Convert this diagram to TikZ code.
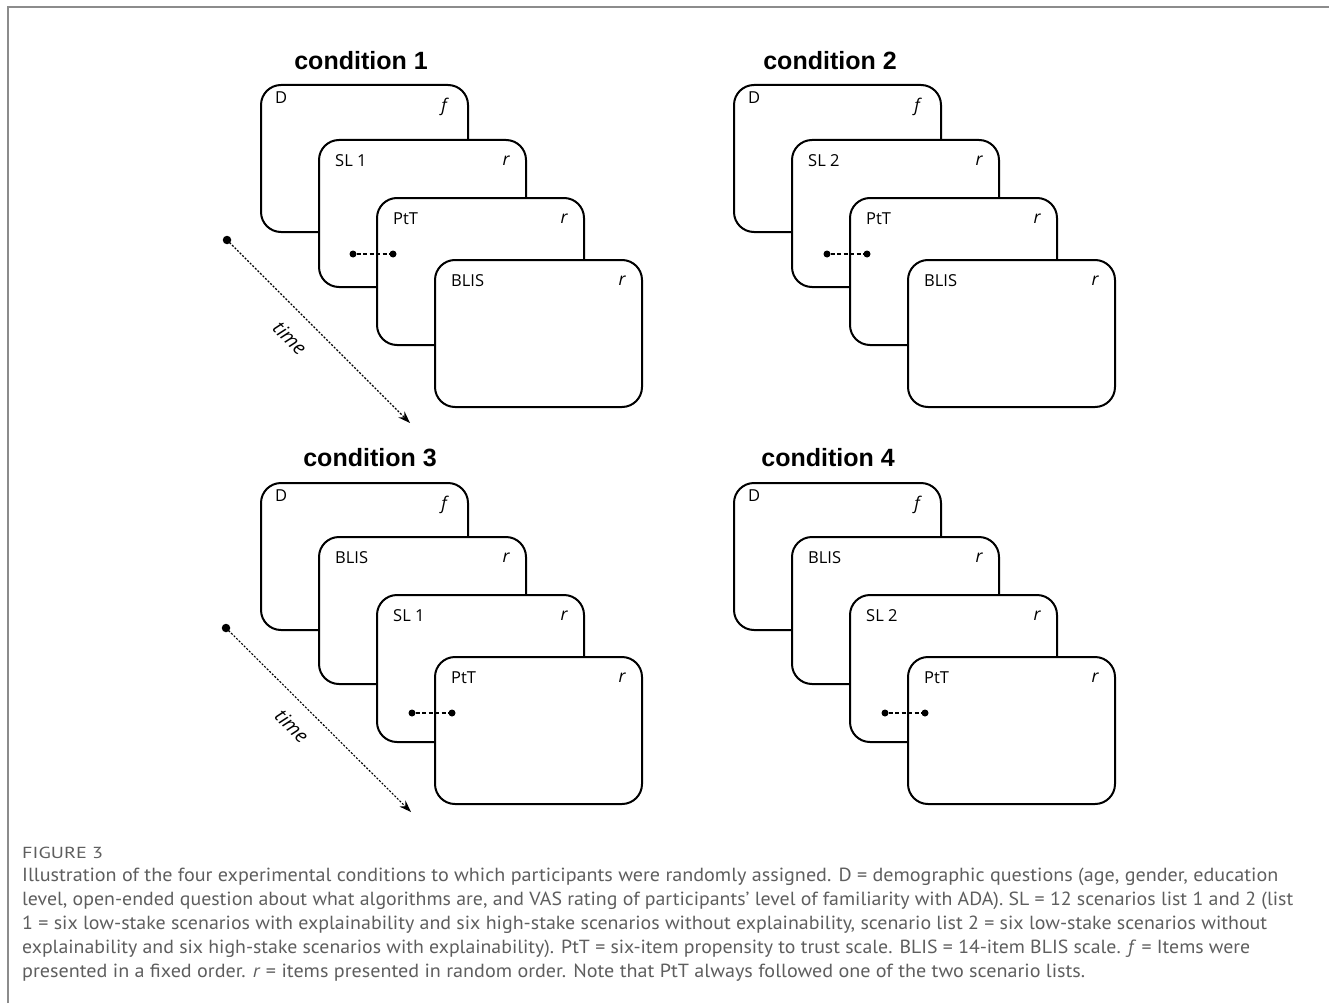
\documentclass[tikz,border=0pt]{standalone}
\usepackage{graphicx}
\usepackage{fontspec}
\setmainfont{Open Sans}
\newfontfamily\titlefont{Liberation Sans}
\newfontfamily\capfont{PT Sans}
\usetikzlibrary{arrows.meta}
\definecolor{capgray}{HTML}{5E5E5E}
\definecolor{framegray}{HTML}{8C8C8C}
\tikzset{
  card/.style={draw=black, line width=2pt, fill=white, rounded corners=20pt,
    minimum width=207pt, minimum height=147pt, inner sep=0pt, anchor=north west},
  lbl/.style={font=\fontsize{16.5}{18}\selectfont, inner sep=0pt, anchor=west},
  mrk/.style={font=\fontsize{17.5}{19}\selectfont\itshape, inner sep=0pt},
  ttl/.style={font=\titlefont\bfseries\fontsize{25}{28}\selectfont, inner sep=0pt},
  timeline/.style={line width=1.1pt, dash pattern=on 2pt off 1.6pt, -{Stealth[length=12pt,width=8.5pt]}},
  timelbl/.style={font=\fontsize{19.5}{21}\selectfont\itshape, inner sep=0pt, rotate=-45},
  link/.style={line width=1.3pt, dash pattern=on 4pt off 2.5pt},
  bigdot/.style={circle, fill=black, inner sep=0pt, minimum size=8.5pt},
  smalldot/.style={circle, fill=black, inner sep=0pt, minimum size=7pt},
  captext/.style={font=\capfont\fontsize{19}{22}\selectfont, text=capgray, inner sep=0pt, anchor=base west},
}
% #1 name, #2 x, #3 y, #4 label, #5 mark
\newcommand{\mycard}[5]{%
  \node[card] (#1) at (#2,#3) {};
  \node[lbl] (#1-l) at ([shift={(17,22)}]#1.north west) {#4};
  \node[mrk] (#1-m) at ([shift={(-21,22)}]#1.north east) {#5};
}
\newcommand{\firstcard}[3]{%
  \node[card] (#1) at (#2,#3) {};
  \node[lbl] (#1-l) at ([shift={(15,14)}]#1.north west) {D};
  \node[mrk] (#1-m) at ([shift={(-25,23)}]#1.north east) {f};
}
\begin{document}
\begin{tikzpicture}[x=1pt,y=-1pt]
\useasboundingbox (0,0) rectangle (1329,1003);
\fill[white] (0,0) rectangle (1329,1003);
\draw[framegray, line width=2pt] (7.5,1003) -- (7.5,7.5) -- (1329,7.5);

% ---------- condition 1 ----------
\node[ttl] (t1) at (361,61) {condition 1};
\firstcard{a1}{260}{84}
\mycard{a2}{318}{139}{SL 1}{r}
\mycard{a3}{376}{197}{PtT}{r}
\mycard{a4}{434}{259}{BLIS}{r}
\node[smalldot] (l1a) at (353,254) {};
\node[smalldot] (l1b) at (393,254) {};
\draw[link] (l1a) -- (l1b);
\node[bigdot] (s1) at (227,240) {};
\coordinate (e1) at (410,423);
\draw[timeline] (s1.center) -- (e1);
\node[timelbl] (tl1) at (290,338) {time};

% ---------- condition 2 ----------
\node[ttl] (t2) at (830,61) {condition 2};
\firstcard{b1}{733}{84}
\mycard{b2}{791}{139}{SL 2}{r}
\mycard{b3}{849}{197}{PtT}{r}
\mycard{b4}{907}{259}{BLIS}{r}
\node[smalldot] (l2a) at (827,254) {};
\node[smalldot] (l2b) at (867,254) {};
\draw[link] (l2a) -- (l2b);

% ---------- condition 3 ----------
\node[ttl] (t3) at (370,458) {condition 3};
\firstcard{c1}{260}{482}
\mycard{c2}{318}{536}{BLIS}{r}
\mycard{c3}{376}{594}{SL 1}{r}
\mycard{c4}{434}{656}{PtT}{r}
\node[smalldot] (l3a) at (412,713) {};
\node[smalldot] (l3b) at (452,713) {};
\draw[link] (l3a) -- (l3b);
\node[bigdot] (s3) at (226,628) {};
\coordinate (e3) at (411,812);
\draw[timeline] (s3.center) -- (e3);
\node[timelbl] (tl3) at (292,726) {time};

% ---------- condition 4 ----------
\node[ttl] (t4) at (828,458) {condition 4};
\firstcard{d1}{733}{482}
\mycard{d2}{791}{536}{BLIS}{r}
\mycard{d3}{849}{594}{SL 2}{r}
\mycard{d4}{907}{656}{PtT}{r}
\node[smalldot] (l4a) at (885,713) {};
\node[smalldot] (l4b) at (925,713) {};
\draw[link] (l4a) -- (l4b);

% ---------- caption ----------
\node[captext, font=\capfont\fontsize{16}{18}\selectfont] (fig) at (22,858.5) {\resizebox{81pt}{\height}{FIGURE 3}};
\node[captext] (c1l) at (22,881) {\resizebox{1256pt}{\height}{Illustration of the four experimental conditions to which participants were randomly assigned. D = demographic questions (age, gender, education}};
\node[captext] (c2l) at (22,905) {\resizebox{1271pt}{\height}{level, open-ended question about what algorithms are, and VAS rating of participants’ level of familiarity with ADA). SL = 12 scenarios list 1 and 2 (list}};
\node[captext] (c3l) at (22,929) {\resizebox{1245pt}{\height}{1 = six low-stake scenarios with explainability and six high-stake scenarios without explainability, scenario list 2 = six low-stake scenarios without}};
\node[captext] (c4l) at (22,953) {\resizebox{1228pt}{\height}{explainability and six high-stake scenarios with explainability). PtT = six-item propensity to trust scale. BLIS = 14-item BLIS scale. \textit{f} = Items were}};
\node[captext] (c5l) at (22,977) {\resizebox{1063pt}{\height}{presented in a fixed order. \textit{r} = items presented in random order. Note that PtT always followed one of the two scenario lists.}};
\end{tikzpicture}
\end{document}
